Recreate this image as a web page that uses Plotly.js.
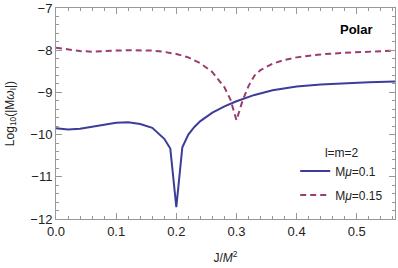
<!DOCTYPE html>
<html>
<head>
<meta charset="utf-8">
<script src="https://cdn.plot.ly/plotly-3.0.1.min.js"></script>
<style>html,body{margin:0;padding:0;background:#fff;}#plot{width:398px;height:268px;}</style>
</head>
<body>
<div id="plot"></div>
<script>
const jSolid = [0.0,0.02,0.04,0.06,0.08,0.10,0.12,0.14,0.16,0.18,0.19,0.20,0.21,0.22,0.23,0.24,0.26,0.28,0.30,0.33,0.36,0.40,0.44,0.48,0.52,0.5635];
const vSolid = [-9.85,-9.88,-9.86,-9.81,-9.76,-9.72,-9.71,-9.75,-9.84,-10.1,-10.33,-11.72,-10.30,-10.0,-9.82,-9.68,-9.48,-9.33,-9.21,-9.06,-8.95,-8.86,-8.81,-8.78,-8.76,-8.74];
const jDashed = [0.0,0.02,0.04,0.06,0.08,0.10,0.12,0.14,0.16,0.18,0.20,0.22,0.24,0.26,0.28,0.29,0.30,0.31,0.32,0.33,0.34,0.36,0.38,0.40,0.44,0.48,0.52,0.5635];
const vDashed = [-7.94,-7.98,-8.02,-8.035,-8.03,-8.01,-8.0,-8.0,-8.01,-8.04,-8.09,-8.17,-8.31,-8.52,-8.88,-9.17,-9.66,-9.2,-8.85,-8.6,-8.47,-8.32,-8.23,-8.17,-8.10,-8.06,-8.03,-8.01];
const seriesNames = ['M<i>\u03bc</i>=0.1','M<i>\u03bc</i>=0.15'];
const legendTitle = 'l=m=2';
const panelLabel = '<b>Polar</b>';
const xTitle = 'J/<i>M</i><sup>2</sup>';
const yTitle = 'Log<sub>10</sub>(|M<i>\u03c9</i><sub>I</sub>|)';

const font = 'Liberation Sans, Arial, sans-serif';
const axisCommon = {
  showline: true, linecolor: '#999', linewidth: 1, mirror: 'allticks',
  ticks: 'inside', ticklen: 6, tickcolor: '#999', tickwidth: 1,
  showgrid: false, zeroline: false,
  tickfont: {family: font, size: 13, color: '#222'}
};
const data = [
  {x: jSolid, y: vSolid, mode: 'lines', name: seriesNames[0], legendgroup: 'a',
   line: {color: '#3d3d99', width: 2}},
  {x: jDashed, y: vDashed, mode: 'lines', name: seriesNames[1], legendgroup: 'b',
   line: {color: '#993d70', width: 2, dash: '6px,4px'}}
];
const layout = {
  width: 398, height: 268,
  margin: {l: 56, r: 3, t: 8, b: 49},
  paper_bgcolor: '#fff', plot_bgcolor: '#fff',
  font: {family: font, color: '#222'},
  showlegend: true,
  legend: {
    x: 0.98, xanchor: 'right', y: 0.37, yanchor: 'top',
    bgcolor: 'rgba(0,0,0,0)', borderwidth: 0,
    font: {family: font, size: 12, color: '#222'},
    title: {text: legendTitle, side: 'top center', font: {family: font, size: 12, color: '#222'}},
    itemwidth: 30, tracegroupgap: 5
  },
  xaxis: Object.assign({}, axisCommon, {
    range: [0, 0.5635], dtick: 0.1, tick0: 0, tickformat: '.1f',
    minor: {dtick: 0.02, ticks: 'inside', ticklen: 3, tickcolor: '#999', showgrid: false},
    title: {text: xTitle, font: {family: font, size: 12, color: '#222'}, standoff: 16}
  }),
  yaxis: Object.assign({}, axisCommon, {
    range: [-12, -7], dtick: 1, tick0: -12,
    minor: {dtick: 0.2, ticks: 'inside', ticklen: 3, tickcolor: '#999', showgrid: false},
    title: {text: yTitle, font: {family: font, size: 12, color: '#222'}, standoff: 13}
  }),
  annotations: [
    {text: panelLabel, xref: 'paper', yref: 'paper', x: 0.885, y: 0.9, xanchor: 'center', yanchor: 'middle',
     showarrow: false, font: {family: font, size: 13, color: '#000'}}
  ]
};
Plotly.newPlot('plot', data, layout, {displayModeBar: false, staticPlot: true});
</script>
</body>
</html>
